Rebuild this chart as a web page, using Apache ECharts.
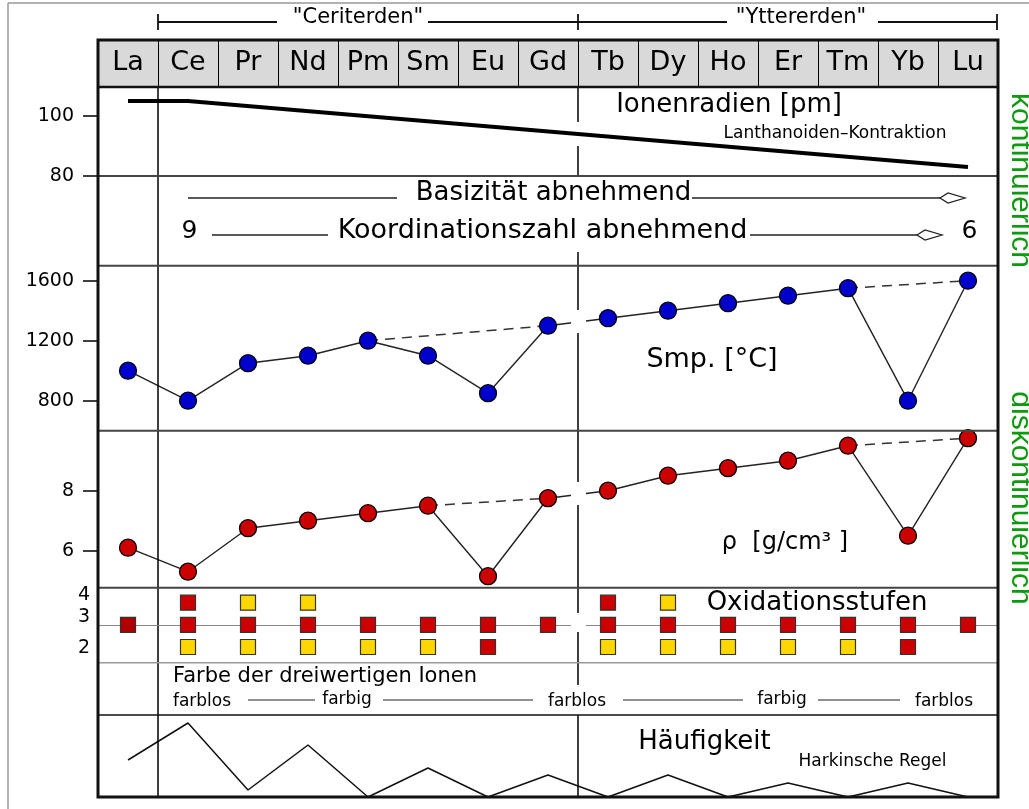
<!DOCTYPE html>
<html><head><meta charset="utf-8">
<script src="https://cdn.jsdelivr.net/npm/echarts@6/dist/echarts.min.js"></script>
<style>html,body{margin:0;padding:0;background:#fff}#c{width:1029px;height:809px}</style>
</head><body><div id="c"></div>
<script>
// ---------- data ----------
const elements = ['La','Ce','Pr','Nd','Pm','Sm','Eu','Gd','Tb','Dy','Ho','Er','Tm','Yb','Lu'];
// Ionenradien (schematic line: La, Ce, ..., Lu)
const radiusPm = [105, 105, null, null, null, null, null, null, null, null, null, null, null, null, 83];
const radiusTicks = [80, 100];
// Schmelzpunkt [°C]
const meltingC = [1000, 800, 1050, 1100, 1200, 1100, 850, 1300, 1350, 1400, 1450, 1500, 1550, 800, 1600];
const meltingTicks = [800, 1200, 1600];
const meltingTrends = [[4, 7], [12, 14]];   // Pm–Gd, Tm–Lu (dashed)
// Dichte [g/cm3]
const density = [6.1, 5.3, 6.75, 7.0, 7.25, 7.5, 5.15, 7.75, 8.0, 8.5, 8.75, 9.0, 9.5, 6.5, 9.75];
const densityTicks = [6, 8];
const densityTrends = [[5, 7], [12, 14]];   // Sm–Gd, Tm–Lu (dashed)
// Oxidationsstufen: r = rot, y = gelb, d = dunkelrot, '' = keine
const ox4 = ['', 'r', 'y', 'y', '', '', '', '', 'r', 'y', '', '', '', '', ''];
const ox3 = ['d', 'r', 'r', 'r', 'r', 'r', 'r', 'r', 'r', 'r', 'r', 'r', 'r', 'r', 'r'];
const ox2 = ['', 'y', 'y', 'y', 'y', 'y', 'r', '', 'y', 'y', 'y', 'y', 'y', 'r', ''];
const oxTicks = [2, 3, 4];
// Häufigkeit (relative, schematic)
const abundance = [37, 74, 7, 52, 0, 29, 0, 22, 0, 22, 0, 14, 0, 14, 0];

// ---------- styling ----------
const FONT = 'DejaVu Sans';
const oxColors = { r: '#cc0000', y: '#ffd700', d: '#b00000' };
const L = 98, W = 900;

function xAx(grid, show) {
  return {
    type: 'category', gridIndex: grid, data: elements, boundaryGap: true, show: !!show,
    axisLine: { show: false }, axisTick: { show: false },
    axisLabel: show ? { interval: 0, inside: true, margin: 24, verticalAlign: 'middle',
      color: '#000', fontSize: 27, fontFamily: FONT } : { show: false },
    splitLine: show ? { show: true, interval: 0, lineStyle: { color: '#000', width: 1 } } : { show: false }
  };
}
function yAx(grid, min, max, ticks) {
  return {
    type: 'value', gridIndex: grid, min: min, max: max,
    axisLine: { show: false }, splitLine: { show: false },
    axisTick: ticks ? { show: true, length: 15, customValues: ticks, lineStyle: { color: '#000', width: 1.5 } } : { show: false },
    axisLabel: ticks ? { show: true, customValues: ticks, margin: 24, color: '#000', fontSize: 19, fontFamily: FONT,
      formatter: v => String(v) } : { show: false }
  };
}
function trend(src, pair) {
  return src.map((v, i) => (i === pair[0] || i === pair[1]) ? v : null);
}
function oxData(row, val) {
  return row.map((c, i) => c ? { value: [i, val], itemStyle: { color: oxColors[c] } } : null).filter(Boolean);
}

// graphic helpers
function ln(x1, y1, x2, y2, color, width, z) {
  return { type: 'line', z: z || 5, silent: true, shape: { x1, y1, x2, y2 },
    style: { stroke: color || '#222', lineWidth: width || 1.3 } };
}
function tx(x, y, text, size, opts) {
  opts = opts || {};
  return { type: 'text', x, y, z: 6, silent: true, rotation: opts.rotation || 0,
    style: { text, fontSize: size, fontFamily: opts.font || FONT, fill: opts.color || '#000',
      textAlign: opts.align || 'center', textVerticalAlign: 'middle' } };
}
function diamond(x1, x2, y) {
  const m = x1 + 8;
  return { type: 'polygon', z: 6, silent: true,
    shape: { points: [[x1, y], [m, y - 5], [x2, y], [m, y + 5]] },
    style: { fill: '#fff', stroke: '#222', lineWidth: 1.3 } };
}
function patch(x, y, w, h) {
  return { type: 'rect', z: 50, silent: true, shape: { x, y, width: w, height: h }, style: { fill: '#fff' } };
}

const graphics = [
  // image border
  ln(8, 3, 8, 809, '#999', 1.5, 1), ln(8, 3, 1029, 3, '#999', 1.5, 1),
  // top band
  ln(158, 22, 277, 22, '#111', 1.8), ln(428, 22, 727, 22, '#111', 1.8), ln(878, 22, 997, 22, '#111', 1.8),
  ln(158, 14, 158, 30, '#111', 1.8), ln(578, 14, 578, 30, '#111', 1.8), ln(997, 14, 997, 30, '#111', 1.8),
  tx(358, 18, '"Ceriterden"', 21), tx(801, 18, '"Yttererden"', 21),
  // frame & panel separators
  { type: 'rect', z: 10, silent: true, shape: { x: L, y: 40, width: W, height: 757 },
    style: { fill: 'none', stroke: '#111', lineWidth: 3 } },
  ln(L, 87, L + W, 87, '#111', 2.5, 10),
  ln(L, 176, L + W, 176, '#444', 2),
  ln(L, 265.7, L + W, 265.7, '#444', 2),
  ln(L, 430.7, L + W, 430.7, '#444', 2),
  ln(L, 587.7, L + W, 587.7, '#444', 2),
  ln(L, 662.7, L + W, 662.7, '#999', 1.5),
  ln(L, 715, L + W, 715, '#111', 1.5),
  // vertical dividers
  ln(158, 87, 158, 797, '#000', 1.5, 4),
  ln(578, 87, 578, 122, '#000', 1.5, 4), ln(578, 146, 578, 177, '#000', 1.5, 4),
  ln(578, 252, 578, 310, '#000', 1.5, 4), ln(578, 333, 578, 482, '#000', 1.5, 4),
  ln(578, 505, 578, 613, '#000', 1.5, 4), ln(578, 632, 578, 685, '#000', 1.5, 4),
  ln(578, 715, 578, 797, '#000', 1.5, 4),
  patch(571, 315, 15, 14), patch(571, 487, 15, 14), patch(571, 620, 15, 10),
  // radius panel
  tx(729, 105.5, 'Ionenradien [pm]', 26),
  tx(835, 133.5, 'Lanthanoiden–Kontraktion', 17),
  // basicity panel
  ln(188, 198, 397, 198), tx(553.5, 193.5, 'Basizität abnehmend', 26),
  ln(692, 198, 940, 198), diamond(940, 965, 198),
  tx(189.5, 231, '9', 25), ln(212, 235, 328, 235),
  tx(542.5, 231, 'Koordinationszahl abnehmend', 27),
  ln(750, 235, 917, 235), diamond(917, 942, 235), tx(969.5, 231, '6', 25),
  // labels
  tx(712, 360, 'Smp. [°C]', 27),
  tx(785, 543, 'ρ  [g/cm³ ]', 24),
  tx(817, 603, 'Oxidationsstufen', 26),
  tx(173, 676.5, 'Farbe der dreiwertigen Ionen', 21, { align: 'left' }),
  tx(202, 702, 'farblos', 17), ln(248, 700, 315, 700, '#222', 1.2),
  tx(347, 700, 'farbig', 17), ln(383, 700, 533, 700, '#222', 1.2),
  tx(577, 702, 'farblos', 17), ln(623, 700, 743, 700, '#222', 1.2),
  tx(782, 700, 'farbig', 17), ln(818, 700, 900, 700, '#222', 1.2),
  tx(944, 702, 'farblos', 17),
  tx(704.5, 742.7, 'Häufigkeit', 26),
  tx(872.5, 761.3, 'Harkinsche Regel', 17),
  // side labels
  tx(1020, 180.5, 'kontinuierlich', 30, { rotation: -Math.PI / 2, font: 'Liberation Sans', color: '#0d9a0d' }),
  tx(1020, 498, 'diskontinuierlich', 30, { rotation: -Math.PI / 2, font: 'Liberation Sans', color: '#0d9a0d' })
];

const dashStyle = { color: '#333', width: 1.5, type: [10, 7] };
const solidStyle = { color: '#222', width: 1.4 };
const squareStyle = { borderColor: '#333', borderWidth: 1.2, opacity: 1 };

const option = {
  animation: false,
  backgroundColor: '#fff',
  grid: [
    { left: L, width: W, top: 40, height: 47, show: true, backgroundColor: '#d9d9d9', borderWidth: 0 },
    { left: L, width: W, top: 87, height: 89 },
    { left: L, width: W, top: 265.7, height: 165 },
    { left: L, width: W, top: 430.7, height: 157 },
    { left: L, width: W, top: 587.7, height: 75 },
    { left: L, width: W, top: 715, height: 82 }
  ],
  xAxis: [xAx(0, true), xAx(1), xAx(2), xAx(3), xAx(4), xAx(5)],
  yAxis: [
    { type: 'value', gridIndex: 0, show: false, min: 0, max: 1 },
    yAx(1, 80, 80 + 89 / 3, radiusTicks),
    yAx(2, 600, 1700, meltingTicks),
    yAx(3, 6 - 37 / 30, 10, densityTicks),
    Object.assign(yAx(4, 1.291, 4.677, null), {
      axisLabel: { show: true, customValues: oxTicks, margin: 8,
        formatter: v => v === 2 ? '{d|' + v + '}' : '{u|' + v + '}',
        rich: {
          u: { fontSize: 19, fontFamily: FONT, color: '#000', padding: [0, 0, 15, 0] },
          d: { fontSize: 19, fontFamily: FONT, color: '#000', padding: [2, 0, 0, 0] }
        } }
    }),
    yAx(5, 0, 82, null)
  ],
  series: [
    { name: 'Ionenradien', type: 'line', xAxisIndex: 1, yAxisIndex: 1, data: radiusPm, connectNulls: true,
      symbol: 'none', lineStyle: { color: '#000', width: 4 }, z: 3 },

    ...meltingTrends.map(p => ({ type: 'line', xAxisIndex: 2, yAxisIndex: 2, data: trend(meltingC, p),
      connectNulls: true, symbol: 'none', lineStyle: dashStyle, z: 1 })),
    { name: 'Smp', type: 'line', xAxisIndex: 2, yAxisIndex: 2, data: meltingC, symbol: 'circle', symbolSize: 17,
      itemStyle: { color: '#0000cc', borderColor: '#000', borderWidth: 1.3, opacity: 1 }, lineStyle: solidStyle, z: 3 },

    ...densityTrends.map(p => ({ type: 'line', xAxisIndex: 3, yAxisIndex: 3, data: trend(density, p),
      connectNulls: true, symbol: 'none', lineStyle: dashStyle, z: 1 })),
    { name: 'Dichte', type: 'line', xAxisIndex: 3, yAxisIndex: 3, data: density, symbol: 'circle', symbolSize: 17,
      itemStyle: { color: '#cc0000', borderColor: '#000', borderWidth: 1.3, opacity: 1 }, lineStyle: solidStyle, z: 3 },

    { name: 'Ox4', type: 'scatter', xAxisIndex: 4, yAxisIndex: 4, data: oxData(ox4, 4), symbol: 'rect', symbolSize: 15,
      itemStyle: squareStyle, z: 1,
      markLine: { silent: true, symbol: ['none', 'none'], label: { show: false },
        lineStyle: { color: '#888', width: 1.2, type: 'solid' }, data: [{ yAxis: 3 }] } },
    { name: 'Ox3', type: 'scatter', xAxisIndex: 4, yAxisIndex: 4, data: oxData(ox3, 3), symbol: 'rect', symbolSize: 15,
      itemStyle: squareStyle, z: 5 },
    { name: 'Ox2', type: 'scatter', xAxisIndex: 4, yAxisIndex: 4, data: oxData(ox2, 2), symbol: 'rect', symbolSize: 15,
      itemStyle: squareStyle, z: 5 },

    { name: 'Häufigkeit', type: 'line', xAxisIndex: 5, yAxisIndex: 5, data: abundance, symbol: 'none',
      lineStyle: { color: '#111', width: 1.5 }, z: 3 }
  ],
  graphic: graphics
};

const chart = echarts.init(document.getElementById('c'), null, { renderer: 'canvas' });
chart.setOption(option);
</script>
</body></html>
